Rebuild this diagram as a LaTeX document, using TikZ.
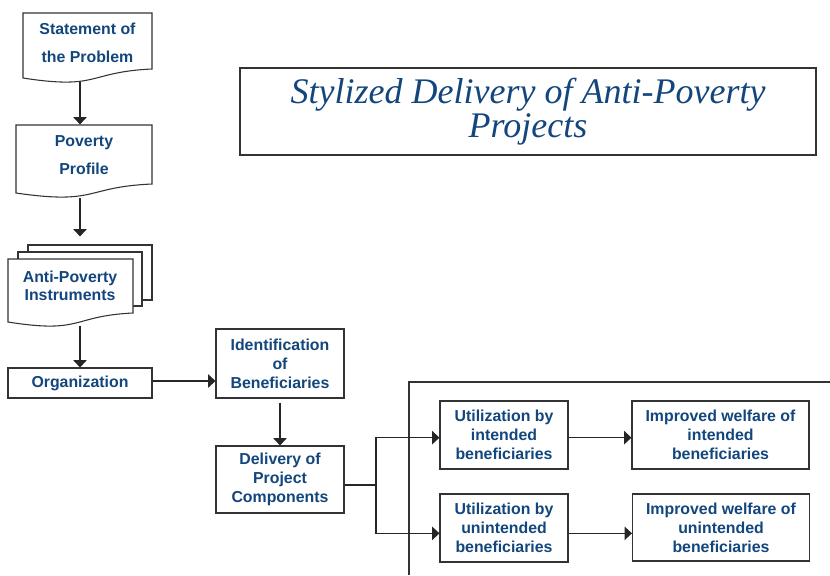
\documentclass[tikz,border=0pt]{standalone}
\usepackage{fontspec}
\setsansfont{Liberation Sans}
\newfontfamily\titlefont{Liberation Serif}
\usepackage{tikz}
\usetikzlibrary{positioning,arrows.meta}
\definecolor{txtblue}{RGB}{18,70,124}
\definecolor{linegray}{RGB}{51,51,51}
\tikzset{
  box/.style={draw=linegray, line width=0.8pt, fill=white, align=center, inner sep=0pt,
    font=\sffamily\bfseries\fontsize{11.9}{14.3}\selectfont, text=txtblue},
  doctext/.style={box, draw=none, fill=none},
  outline/.style={draw=linegray, line width=0.8pt, fill=white},
  arr/.style={line width=0.8pt, draw=black!85, -{Triangle[length=5.5pt,width=10pt]}},
  link/.style={line width=0.8pt, draw=black!85},
}

\begin{document}
\begin{tikzpicture}[x=0.75pt,y=-0.75pt]
\useasboundingbox (0,0) rectangle (830,575);

% Title
\node[box, minimum width=432pt, minimum height=65.25pt,
  font=\titlefont\itshape\fontsize{27}{25.5}\selectfont] (title) at (528,111.5)
  {Stylized Delivery of Anti-Poverty\\Projects};

% Document shapes
\draw[outline] (23,78) .. controls +(77,12) and +(-65,3) .. (152,69) -- (152,13) -- (23,13) -- cycle;
\draw[outline] (16,193) .. controls +(82,12) and +(-68,3) .. (152,184) -- (152,125) -- (16,125) -- cycle;
\draw[outline] (28,245) rectangle (152,300);
\draw[outline] (18,252) rectangle (142,306);
\draw[outline] (8,322) .. controls +(75,12) and +(-62,3) .. (133,313) -- (133,259) -- (8,259) -- cycle;

\node[doctext, minimum width=96.75pt, minimum height=57pt] (stmt) at (87.5,43) {Statement of\\[7pt]the Problem};
\node[doctext, minimum width=102pt, minimum height=45pt] (prof) at (84,155) {Poverty\\[7pt]Profile};
\node[doctext, minimum width=93.75pt, minimum height=73.5pt] (instr) at (70,286) {Anti-Poverty\\[-1pt]Instruments};

% Boxes
\node[box, minimum width=108pt, minimum height=22.5pt] (org) at (80,383) {Organization};
\node[box, minimum width=96pt, minimum height=51.75pt] (ident) at (280,363.5) {Identification\\of\\Beneficiaries};
\node[box, minimum width=96pt, minimum height=50.25pt] (deliv) at (280,479.5) {Delivery of\\Project\\Components};
\node[box, minimum width=96pt, minimum height=51pt] (useint) at (504,435) {Utilization by\\intended\\beneficiaries};
\node[box, minimum width=96pt, minimum height=51pt] (useun) at (504,528) {Utilization by\\unintended\\beneficiaries};
\node[box, minimum width=132.75pt, minimum height=51pt] (welint) at (720.5,435) {Improved welfare of\\intended\\beneficiaries};
\node[box, minimum width=132.75pt, minimum height=50.25pt] (welun) at (721,527.5) {Improved welfare of\\unintended\\beneficiaries};

% Frame edge
\draw[outline, fill=none] (409,575) -- (409,382) -- (830,382);

% Connectors
\draw[arr] (stmt.south -| org.north) -- (prof.north -| org.north);
\draw[arr] ([yshift=-9pt]prof.south -| org.north) -- (instr.north -| org.north);
\draw[arr] ([yshift=7.5pt]instr.south -| org.north) -- (org.north);
\draw[arr] ([yshift=1.5pt]org.east) -- ([yshift=1.5pt]org.east -| ident.west);
\draw[arr] ([yshift=-3pt]ident.south) -- (deliv.north);

\coordinate (split) at (376,485);
\draw[link] (deliv.east |- split) -- (split);
\draw[arr] (split) |- ([yshift=-2pt]useint.west);
\draw[arr] (split) |- ([yshift=-4pt]useun.west);
\draw[arr] ([yshift=-2pt]useint.east) -- ([yshift=-2pt]welint.west);
\draw[arr] ([yshift=-4pt]useun.east) -- ([yshift=-4pt]useun.east -| welun.west);
\end{tikzpicture}
\end{document}
